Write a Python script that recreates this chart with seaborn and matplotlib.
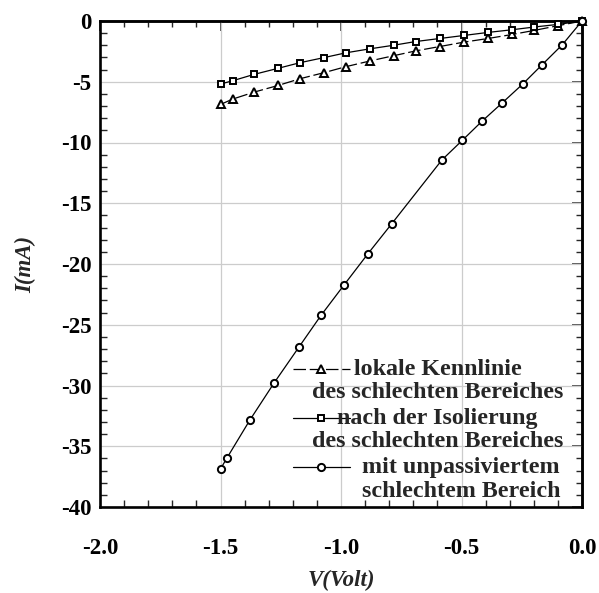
import numpy as np
import pandas as pd
import seaborn as sns
import matplotlib.pyplot as plt
from matplotlib.ticker import MultipleLocator
from matplotlib.legend_handler import HandlerLine2D

# ======================================
# DATA
# ======================================
V_TRI = [-1.50, -1.45, -1.36, -1.26, -1.17, -1.07, -0.98, -0.88, -0.78,
         -0.69, -0.59, -0.49, -0.39, -0.29, -0.20, -0.10, 0.0]
I_TRI = [-6.87, -6.43, -5.85, -5.30, -4.75, -4.25, -3.76, -3.29, -2.85,
         -2.46, -2.10, -1.74, -1.44, -1.11, -0.78, -0.39, 0.0]

V_SQR = [-1.50, -1.45, -1.36, -1.26, -1.17, -1.07, -0.98, -0.88, -0.78,
         -0.69, -0.59, -0.49, -0.39, -0.29, -0.20, -0.10, 0.0]
I_SQR = [-5.19, -4.92, -4.39, -3.89, -3.43, -3.01, -2.62, -2.29, -1.99,
         -1.69, -1.44, -1.19, -0.94, -0.72, -0.50, -0.28, 0.0]

V_CIR = [-1.50, -1.474, -1.378, -1.278, -1.175, -1.083, -0.986, -0.888,
         -0.790, -0.581, -0.497, -0.415, -0.331, -0.246, -0.165, -0.082, 0.0]
I_CIR = [-36.87, -35.99, -32.84, -29.80, -26.85, -24.23, -21.69, -19.15,
         -16.70, -11.43, -9.83, -8.25, -6.74, -5.19, -3.59, -1.96, 0.0]

LABELS = ["lokale Kennlinie\ndes schlechten Bereiches",
          "nach der Isolierung\ndes schlechten Bereiches",
          "mit unpassiviertem\nschlechtem Bereich"]

# ======================================
# STYLE
# ======================================
sns.set_style("white")
plt.rcParams["font.family"] = ["Liberation Serif", "DejaVu Serif"]
plt.rcParams["font.weight"] = "bold"
plt.rcParams["axes.unicode_minus"] = False

FS = 16.5
LEG_FS = 17.3
LW = 0.9

fig = plt.figure(figsize=(5.99, 5.93), dpi=100)
ax = fig.add_axes([100 / 599, 1 - 507 / 593, 482 / 599, 486 / 593])

common = dict(ax=ax, color="black", linewidth=LW, estimator=None, sort=False,
              markeredgewidth=1.4, markerfacecolor="white",
              markeredgecolor="black", clip_on=False, zorder=3)

sns.lineplot(x=V_TRI, y=I_TRI, marker="^", markersize=5.5, label=LABELS[0], **common)
sns.lineplot(x=V_SQR, y=I_SQR, marker="s", markersize=4.6, label=LABELS[1], **common)
sns.lineplot(x=V_CIR, y=I_CIR, marker="o", markersize=5.2, label=LABELS[2], **common)
ax.lines[0].set_dashes([10, 3])

# ======================================
# AXES
# ======================================
ax.set_xlim(-2.0, 0.0)
ax.set_ylim(-40, 0)
ax.xaxis.set_major_locator(MultipleLocator(0.5))
ax.xaxis.set_minor_locator(MultipleLocator(0.1))
ax.yaxis.set_major_locator(MultipleLocator(5))
ax.yaxis.set_minor_locator(MultipleLocator(1))
ax.xaxis.set_major_formatter(plt.FormatStrFormatter("%.1f"))

ax.grid(True, which="major", color="#cccccc", linewidth=0.9)
ax.set_axisbelow(True)

for sp in ax.spines.values():
    sp.set_linewidth(1.9)
    sp.set_color("black")

ax.tick_params(which="major", direction="inout", length=12, width=1.1,
               labelsize=FS, colors="black")
ax.tick_params(axis="x", which="major", pad=16)
ax.tick_params(axis="y", which="major", pad=0)
ax.tick_params(which="minor", direction="in", length=5, width=1.0,
               bottom=True, left=True)

# inward ticks on top / right
top = ax.secondary_xaxis("top")
top.xaxis.set_major_locator(MultipleLocator(0.5))
top.xaxis.set_minor_locator(MultipleLocator(0.1))
top.tick_params(which="major", direction="in", length=7, width=1.1, labeltop=False)
top.tick_params(which="minor", direction="in", length=4, width=1.0)
right = ax.secondary_yaxis("right")
right.yaxis.set_major_locator(MultipleLocator(5))
right.yaxis.set_minor_locator(MultipleLocator(1))
right.tick_params(which="major", direction="in", length=7, width=1.1, labelright=False)
right.tick_params(which="minor", direction="in", length=4, width=1.0)
for sec in (top, right):
    for sp in sec.spines.values():
        sp.set_linewidth(1.9)

ax.set_xlabel("V(Volt)", fontsize=FS, fontweight="bold", fontstyle="italic",
              labelpad=8)
ax.set_ylabel("I(mA)", fontsize=FS, fontweight="bold", fontstyle="italic",
              labelpad=18)

# ======================================
# LEGEND
# ======================================
class FirstLineHandler(HandlerLine2D):
    # put the line sample next to the first text line
    def create_artists(self, legend, orig_handle, xdescent, ydescent,
                       width, height, fontsize, trans):
        arts = super().create_artists(legend, orig_handle, xdescent, ydescent,
                                      width, height, fontsize, trans)
        for a in arts:
            a.set_ydata(np.asarray(a.get_ydata(), dtype=float) + 8.3)
        return arts

handles, labels = ax.get_legend_handles_labels()
leg = ax.legend(handles, labels, loc="upper left", bbox_to_anchor=(0.40, 0.305),
                frameon=False, fontsize=LEG_FS, borderpad=0, borderaxespad=0,
                handlelength=2.37, handletextpad=-1.58, labelspacing=0.2,
                numpoints=1, handler_map={h: FirstLineHandler() for h in handles})
for i, t in enumerate(leg.get_texts()):
    t.set_multialignment("center")
    t.set_linespacing(1.15)
    t.set_fontweight("bold")
leg.get_texts()[2].set_position((50, 0))

fig.savefig("out.png", dpi=100)
